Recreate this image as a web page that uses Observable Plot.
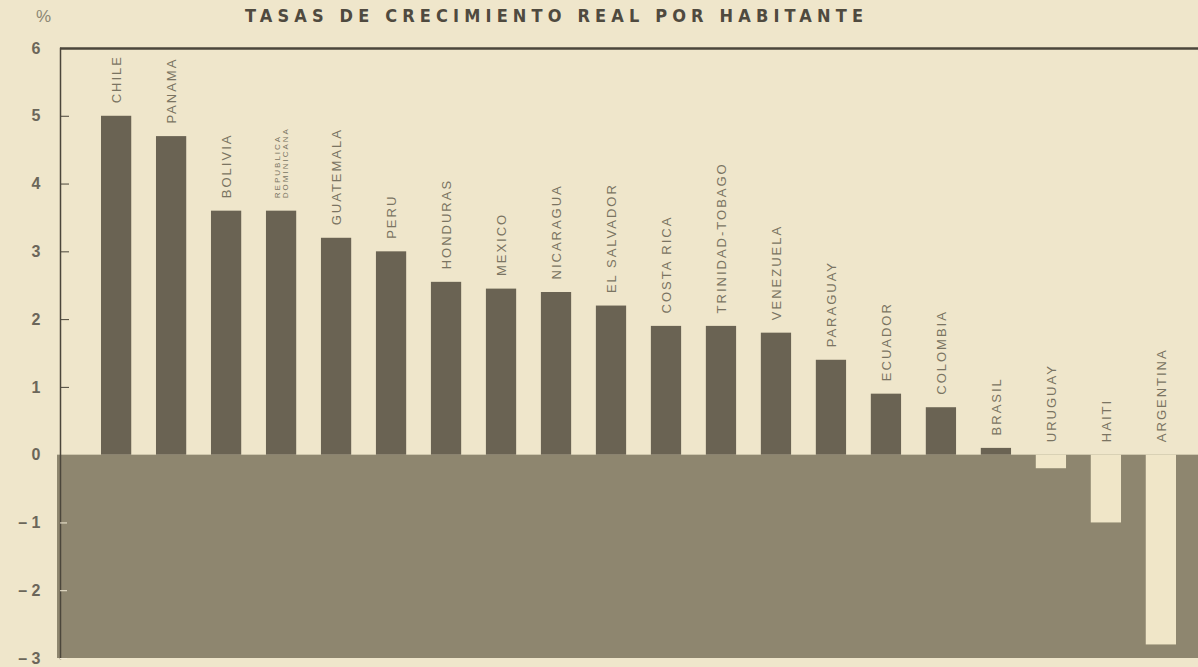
<!DOCTYPE html>
<html>
<head>
<meta charset="utf-8">
<script src="https://cdn.jsdelivr.net/npm/d3@7"></script>
<script src="https://cdn.jsdelivr.net/npm/@observablehq/plot@0.6"></script>
<style>
  html, body { margin: 0; padding: 0; background: #efe6cb; width: 1198px; height: 667px; overflow: hidden; }
  #header { position: relative; height: 30px; width: 1198px; }
  #pct { position: absolute; left: 36px; top: 7px; font: 17px "Liberation Sans", sans-serif; color: #8c8674; }
  #title { position: absolute; left: 245px; top: 5px; white-space: nowrap;
           font: bold 18px "Liberation Sans Narrow", "DejaVu Sans Condensed", "Liberation Sans", sans-serif;
           color: #4f4a3f; }
  .lbl text { letter-spacing: 2px; }
  #chart svg { display: block; }
</style>
</head>
<body>
<div id="header"><span id="pct">%</span><span id="title">TASAS DE CRECIMIENTO REAL POR HABITANTE</span></div>
<div id="chart"></div>
<script>
const countries = ["CHILE","PANAMA","BOLIVIA","REPUBLICA\nDOMINICANA","GUATEMALA","PERU","HONDURAS","MEXICO","NICARAGUA","EL SALVADOR","COSTA RICA","TRINIDAD-TOBAGO","VENEZUELA","PARAGUAY","ECUADOR","COLOMBIA","BRASIL","URUGUAY","HAITI","ARGENTINA"];
const values = [5.0, 4.7, 3.6, 3.6, 3.2, 3.0, 2.55, 2.45, 2.4, 2.2, 1.9, 1.9, 1.8, 1.4, 0.9, 0.7, 0.1, -0.2, -1.0, -2.8];
const yTicks = [6, 5, 4, 3, 2, 1, 0, -1, -2, -3];

const data = countries.map((c, i) => ({country: c, value: values[i]}));

const bgDark = "#8e866f";
const barDark = "#6a6353";
const barLight = "#f0e6c8";
const ink = "#4b463b";

// fit title width
const t = document.getElementById("title");
const target = 618;
const n = t.textContent.length;
const w0 = t.getBoundingClientRect().width;
t.style.letterSpacing = ((target - w0) / (n - 1)) + "px";

const yMax = d3.max(yTicks), yMin = d3.min(yTicks);

const plot = Plot.plot({
  width: 1198,
  height: 637,
  marginLeft: 60,
  marginRight: 0,
  marginTop: 18,
  marginBottom: 9,
  style: {background: "transparent"},
  x: {domain: countries, range: [90, 1187], paddingInner: 0.45, paddingOuter: 0.2, round: false, axis: null},
  y: {domain: [yMin, yMax], ticks: yTicks},
  color: {type: "identity"},
  marks: [
    Plot.rectY([0], {y1: yMin, y2: 0, fill: bgDark, insetLeft: -3}),
    Plot.ruleY([yMax], {stroke: ink, strokeWidth: 2.5}),
    Plot.frame({anchor: "left", stroke: ink, strokeWidth: 1.5}),
    Plot.axisY({ticks: yTicks.filter(d => d > 0), tickSize: -9, tickFormat: () => "", stroke: ink, label: null}),
    Plot.axisY({ticks: yTicks.filter(d => d < 0), tickSize: -7, tickFormat: () => "", stroke: "#f4ecd6", label: null}),
    Plot.axisY({ticks: yTicks, tickSize: 0, tickPadding: 20, label: null,
      tickFormat: d => d < 0 ? "\u2013 " + Math.abs(d) : String(d),
      fontSize: 16, fontWeight: "bold", fill: "#6b665a",
      fontFamily: "'Liberation Sans', Arial, sans-serif"}),
    Plot.barY(data, {x: "country", y: "value", fill: d => d.value >= 0 ? barDark : barLight}),
    Plot.text(data, {
      x: "country", y: d => Math.max(d.value, 0),
      text: "country", rotate: -90, textAnchor: "start", lineAnchor: "middle",
      dy: -13, fill: "#7a7462",
      fontSize: d => d.country.includes("\n") ? 8 : 13,
      fontFamily: "'Liberation Sans', Arial, sans-serif",
      className: "lbl"
    })
  ]
});
document.getElementById("chart").appendChild(plot);
</script>
</body>
</html>
